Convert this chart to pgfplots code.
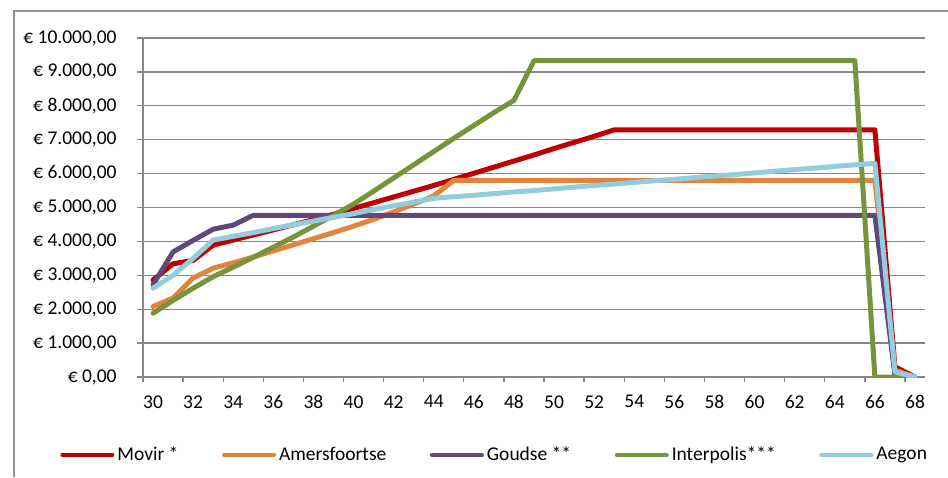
\documentclass[border=0pt]{standalone}
\usepackage{fontspec}
\setmainfont{Carlito}
\usepackage{pgfplots}
\usepackage{pgfplotstable}
\pgfplotsset{compat=1.18}

\definecolor{cmovir}{HTML}{C00000}
\definecolor{camers}{HTML}{E3843D}
\definecolor{cgoudse}{HTML}{5F497A}
\definecolor{cinter}{HTML}{77933C}
\definecolor{caegon}{HTML}{93CDDD}
\definecolor{cgrid}{HTML}{878787}

% premium per age (EUR)
\pgfplotstableread{
age movir amers goudse inter aegon
30 2860 2080 2720 1880 2620
31 3340 2330 3690 2260 3000
32 3440 2920 4030 2620 3500
33 3890 3210 4360 2960 4040
34 4040 3370 4480 3240 4150
35 4190 3540 4770 3530 4260
36 4340 3720 4770 3830 4380
37 4490 3900 4770 4130 4490
38 4640 4080 4770 4450 4600
39 4800 4260 4770 4770 4710
40 4970 4450 4770 5100 4820
41 5140 4650 4770 5480 4940
42 5310 4870 4770 5870 5050
43 5480 5100 4770 6260 5160
44 5650 5340 4770 6650 5270
45 5830 5800 4770 7040 5320
46 6010 5800 4770 7420 5360
47 6190 5800 4770 7800 5410
48 6370 5800 4770 8160 5460
49 6550 5800 4770 9330 5500
50 6740 5800 4770 9330 5550
51 6920 5800 4770 9330 5600
52 7100 5800 4770 9330 5650
53 7290 5800 4770 9330 5690
54 7290 5800 4770 9330 5740
55 7290 5800 4770 9330 5790
56 7290 5800 4770 9330 5830
57 7290 5800 4770 9330 5880
58 7290 5800 4770 9330 5930
59 7290 5800 4770 9330 5970
60 7290 5800 4770 9330 6020
61 7290 5800 4770 9330 6070
62 7290 5800 4770 9330 6120
63 7290 5800 4770 9330 6160
64 7290 5800 4770 9330 6210
65 7290 5800 4770 9330 6260
66 7290 5800 4770 0 6300
67 300 200 50 0 150
68 0 0 0 0 0
}\premies

\begin{document}
\begin{tikzpicture}[x=1bp,y=1bp]
\useasboundingbox (0,0) rectangle (474,238.5);
\draw[cgrid!90, line width=0.6bp] (7,0) -- (7,233) -- (474,233);
\begin{axis}[
    at={(71.5bp,50bp)}, anchor=south west,
    scale only axis, width=391bp, height=169.5bp,
    xmin=29.5, xmax=68.5, ymin=0, ymax=10000,
    axis lines*=left,
    axis line style={cgrid, line width=0.65bp},
    font=\fontsize{9.75bp}{11bp}\selectfont,
    /pgf/number format/assume math mode=true,
    scaled y ticks=false,
    xtick={30,32,...,68},
    xticklabels={30,32,34,36,38,40,42,44,46,48,50,52,54,56,58,60,62,64,66,68},
    major x tick style={draw=none},
    extra x ticks={29.5,31.5,...,67.5},
    extra x tick labels={},
    extra x tick style={grid=none, major tick length=2.5bp,
        major x tick style={draw=cgrid, line width=0.65bp}},
    ytick={0,1000,...,10000},
    yticklabels={{€ 0,00},{€ 1.000,00},{€ 2.000,00},{€ 3.000,00},{€ 4.000,00},{€ 5.000,00},{€ 6.000,00},{€ 7.000,00},{€ 8.000,00},{€ 9.000,00},{€ 10.000,00}},
    tick align=outside,
    major tick length=3bp,
    tick style={cgrid, line width=0.65bp},
    ymajorgrids,
    grid style={cgrid, line width=0.65bp},
    y tick label style={inner sep=0pt, xshift=-10bp},
    x tick label style={inner sep=0pt, yshift=-6bp},
    every axis plot/.append style={line width=2.5bp, line join=round, line cap=round},
    legend columns=5,
    legend style={draw=none, fill=none, inner sep=0pt,
        at={(axis description cs:0,0)}, anchor=west,
        xshift=-41.5bp, yshift=-39bp,
        /tikz/every even column/.append style={column sep=21.8bp},
        nodes={inner sep=0pt, anchor=west, font=\fontsize{9.75bp}{11bp}\selectfont}},
    legend image code/.code={\draw[#1, line width=2bp] (0bp,0bp) -- (25bp,0bp);},
    legend cell align=left,
]
\addplot[cmovir] table[x=age, y=movir] {\premies};
\addlegendentry{\hspace{1.5bp}Movir *}
\addplot[camers] table[x=age, y=amers] {\premies};
\addlegendentry{\hspace{1.5bp}Amersfoortse}
\addplot[cgoudse] table[x=age, y=goudse] {\premies};
\addlegendentry{\hspace{1.5bp}Goudse **}
\addplot[cinter] table[x=age, y=inter] {\premies};
\addlegendentry{\hspace{1.5bp}Interpolis***}
\addplot[caegon] table[x=age, y=aegon] {\premies};
\addlegendentry{\hspace{1.5bp}Aegon}
\end{axis}
\end{tikzpicture}
\end{document}
